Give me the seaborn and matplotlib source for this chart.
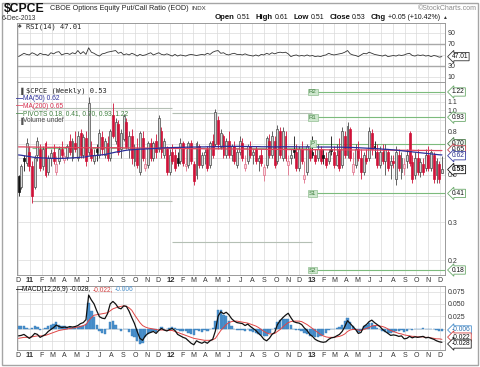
import numpy as np
import pandas as pd
import matplotlib
matplotlib.use("Agg")
import matplotlib.pyplot as plt
import matplotlib.dates as mdates
from matplotlib.ticker import NullLocator
from matplotlib.patches import Rectangle
import seaborn as sns

sns.set_style("white")
plt.rcParams["font.family"] = ["Liberation Sans", "DejaVu Sans"]

# ---------------- data (weekly, Fridays) ----------------
weeks = pd.date_range("2010-12-03", "2013-12-06", freq="W-FRI")

opens = [.49, .44, .60, .57, .64, .55, .44, .62, .66, .55,
         .70, .52, .60, .64, .52, .58, .66, .59, .61, .72,
         .60, .70, .60, .78, .62, .74, .64, .66, .58, .66,
         .62, .75, .62, .70, .60, .95, .72, .86, .66, .74,
         .88, .66, .76, .58, .66, .52, .74, .54, .56, .70,
         .60, .72, .66, .80, .62, .66, .52, .64, .62, .60,
         .58, .70, .55, .56, .70, .56, .50, .68, .56, .62,
         .66, .56, .72, .70, .90, .68, .76, .62, .72, .62,
         .68, .56, .64, .70, .54, .58, .68, .62, .66, .58,
         .62, .50, .56, .72, .62, .72, .58, .80, .60, .76,
         .56, .60, .66, .64, .54, .66, .48, .52, .66, .64,
         .62, .60, .66, .62, .60, .58, .66, .64, .56, .66,
         .56, .76, .62, .82, .52, .56, .66, .60, .52, .60,
         .60, .78, .68, .64, .56, .64, .58, .64, .56, .58,
         .48, .62, .52, .54, .58, .78, .57, .50, .60, .52,
         .56, .54, .62, .54, .62, .50, .56, .51]
highs = [.50, .56, .62, .74, .68, .58, .62, .75, .70, .68,
         .72, .62, .66, .70, .61, .68, .72, .64, .70, .78,
         .74, .80, .80, .82, .78, .80, 1.15, .72, .66, .70,
         .82, .80, .74, .76, .82, 1.08, .92, .90, .82, .96,
         .92, .80, .82, .70, .74, .80, .80, .66, .72, .74,
         .72, .78, .95, .84, .74, .68, .66, .70, .66, .64,
         .74, .72, .66, .72, .73, .58, .72, .70, .64, .66,
         .68, .72, .78, 1.02, .94, .82, .78, .74, .80, .70,
         .72, .66, .76, .74, .62, .70, .72, .66, .68, .62,
         .66, .56, .76, .78, .80, .76, .86, .84, .84, .80,
         .62, .66, .76, .70, .68, .72, .58, .70, .70, .76,
         .66, .70, .68, .66, .64, .66, .76, .68, .70, .74,
         .84, .80, .88, .84, .64, .70, .72, .66, .64, .66,
         .84, .82, .72, .70, .68, .70, .70, .66, .62, .62,
         .68, .66, .64, .60, .66, .80, .62, .64, .66, .60,
         .60, .66, .68, .66, .64, .60, .58, .61]
lows = [.40, .43, .52, .55, .52, .37, .43, .58, .52, .53,
        .49, .50, .55, .56, .50, .56, .60, .57, .59, .62,
        .58, .64, .58, .60, .60, .55, .62, .58, .56, .58,
        .60, .62, .60, .58, .58, .74, .70, .62, .60, .72,
        .66, .60, .56, .55, .54, .50, .58, .52, .54, .58,
        .58, .60, .64, .60, .60, .50, .50, .56, .52, .55,
        .56, .55, .52, .54, .56, .45, .48, .54, .54, .56,
        .52, .54, .60, .68, .66, .66, .60, .60, .60, .58,
        .56, .54, .62, .58, .52, .56, .60, .56, .56, .52,
        .55, .47, .54, .60, .60, .54, .56, .60, .58, .58,
        .50, .56, .60, .52, .52, .56, .46, .50, .58, .60,
        .56, .58, .56, .56, .54, .56, .62, .54, .55, .52,
        .54, .60, .60, .58, .50, .54, .58, .48, .50, .56,
        .58, .62, .60, .54, .54, .56, .50, .52, .48, .54,
        .45, .52, .48, .50, .54, .55, .46, .48, .50, .49,
        .50, .52, .52, .52, .46, .46, .46, .51]
closes = [.42, .55, .58, .70, .55, .40, .60, .72, .54, .66,
          .50, .60, .63, .58, .56, .66, .62, .61, .68, .64,
          .72, .66, .76, .62, .75, .58, 1.08, .60, .62, .64,
          .78, .66, .72, .60, .80, .76, .88, .64, .78, .94,
          .68, .76, .60, .66, .56, .78, .60, .56, .70, .60,
          .70, .64, .92, .64, .72, .52, .62, .58, .54, .57,
          .70, .57, .56, .70, .58, .47, .70, .56, .62, .64,
          .54, .70, .62, .98, .70, .78, .62, .72, .62, .68,
          .58, .64, .72, .60, .56, .68, .62, .64, .58, .60,
          .57, .54, .74, .62, .76, .56, .82, .62, .80, .60,
          .58, .62, .64, .54, .66, .58, .50, .68, .60, .62,
          .58, .66, .58, .60, .56, .64, .65, .56, .62, .54,
          .80, .62, .84, .60, .56, .66, .60, .52, .62, .58,
          .80, .66, .67, .56, .64, .58, .66, .54, .58, .57,
          .64, .54, .60, .56, .62, .57, .48, .60, .52, .57,
          .52, .62, .54, .64, .48, .58, .48, .53]
ma50 = [.620, .618, .615, .612, .610, .606, .604, .603, .601, .600,
        .600, .599, .598, .598, .597, .597, .598, .598, .599, .600,
        .601, .602, .603, .605, .606, .607, .612, .614, .615, .617,
        .619, .621, .623, .627, .631, .635, .639, .642, .645, .649,
        .652, .654, .655, .657, .658, .660, .660, .661, .662, .663,
        .664, .665, .667, .668, .669, .670, .670, .671, .672, .672,
        .673, .673, .674, .674, .675, .675, .675, .676, .676, .676,
        .677, .677, .677, .678, .678, .679, .679, .680, .680, .680,
        .680, .680, .680, .679, .679, .679, .678, .678, .678, .678,
        .677, .677, .677, .677, .676, .676, .676, .676, .677, .677,
        .677, .677, .677, .677, .676, .676, .676, .676, .676, .676,
        .676, .675, .675, .675, .675, .675, .675, .674, .674, .674,
        .674, .673, .673, .672, .672, .671, .670, .669, .668, .667,
        .666, .665, .664, .663, .662, .660, .659, .658, .656, .655,
        .653, .651, .649, .647, .645, .643, .641, .639, .637, .635,
        .633, .631, .629, .627, .625, .623, .621, .620]
ma200 = [.676, .676, .676, .675, .675, .675, .675, .674, .674, .674,
         .674, .673, .673, .673, .673, .672, .672, .672, .672, .671,
         .671, .671, .671, .670, .670, .670, .670, .670, .670, .670,
         .670, .670, .670, .670, .670, .670, .670, .670, .670, .669,
         .669, .669, .669, .669, .668, .668, .668, .668, .667, .667,
         .667, .667, .666, .666, .666, .666, .665, .665, .665, .665,
         .665, .664, .664, .664, .664, .663, .663, .663, .663, .662,
         .662, .662, .662, .662, .662, .662, .661, .661, .661, .661,
         .661, .661, .660, .660, .660, .660, .660, .659, .659, .659,
         .659, .659, .658, .658, .658, .658, .658, .658, .658, .657,
         .657, .657, .657, .657, .657, .657, .656, .656, .656, .656,
         .656, .656, .656, .656, .655, .655, .655, .655, .655, .655,
         .655, .655, .655, .654, .654, .654, .654, .654, .654, .654,
         .654, .654, .653, .653, .653, .653, .653, .653, .653, .652,
         .652, .652, .652, .652, .652, .652, .652, .651, .651, .651,
         .651, .651, .651, .651, .650, .650, .650, .650]
rsi = [47, 50, 53, 51, 50, 54, 52, 49, 53, 51,
       51, 49, 54, 52, 55, 56, 50, 52, 53, 51,
       54, 52, 58, 52, 56, 51, 63, 55, 53, 50,
       48, 52, 53, 55, 56, 57, 58, 53, 55, 50,
       52, 50, 53, 51, 48, 51, 49, 50, 52, 54,
       50, 52, 54, 51, 50, 52, 50, 48, 51, 48,
       50, 49, 48, 50, 51, 50, 49, 50, 51, 50,
       53, 51, 55, 57, 58, 53, 54, 51, 50, 52,
       53, 51, 51, 50, 52, 50, 49, 48, 50, 48,
       51, 50, 53, 51, 54, 52, 54, 55, 54, 55,
       52, 47, 49, 50, 48, 49, 48, 50, 48, 49,
       47, 48, 47, 49, 50, 53, 51, 50, 51, 52,
       53, 55, 58, 52, 50, 49, 47, 50, 53, 52,
       55, 53, 51, 50, 49, 48, 50, 47, 48, 49,
       48, 50, 49, 50, 52, 53, 49, 48, 50, 49,
       50, 48, 49, 47, 49, 48, 46, 47.01]
macd = [-.015, -.014, -.012, -.016, -.020, -.016, -.010, -.012, -.018, -.015,
        -.012, -.006, -.002, .002, .007, .004, .002, .003, .002, .004,
        .003, .004, .006, .010, .012, .018, .068, .058, .050, .036,
        .024, .021, .020, .030, .050, .055, .050, .042, .040, .046,
        .045, .035, .022, .010, -.006, -.020, -.024, -.015, -.010, -.008,
        -.006, -.010, -.004, .000, -.003, -.005, -.002, .000, -.004, -.012,
        -.015, -.018, -.020, -.025, -.030, -.033, -.025, -.028, -.030, -.027,
        -.030, -.025, -.022, -.005, .025, .034, .030, .033, .028, .020,
        .015, .012, .011, .010, .006, .009, .004, .000, -.004, -.010,
        -.015, -.022, -.025, -.020, -.012, -.008, .008, .016, .022, .027,
        .031, .022, .014, .012, .011, .008, .001, -.004, -.012, -.016,
        -.022, -.025, -.027, -.028, -.027, -.022, -.019, -.018, -.015, -.012,
        -.006, .004, .016, .010, .004, -.002, -.010, -.008, .004, .008,
        .014, .017, .012, .008, .004, -.002, -.006, -.010, -.014, -.013,
        -.014, -.016, -.015, -.021, -.020, -.016, -.019, -.017, -.018, -.017,
        -.016, -.019, -.018, -.020, -.022, -.025, -.027, -.028]
signal = [-.020, -.019, -.018, -.018, -.018, -.017, -.016, -.015, -.015, -.015,
          -.014, -.012, -.010, -.008, -.006, -.004, -.003, -.002, -.001, .000,
          .001, .002, .003, .004, .006, .008, .016, .022, .027, .028,
          .029, .030, .031, .032, .036, .040, .042, .044, .045, .046,
          .045, .042, .037, .028, .020, .012, .006, .003, .001, .000,
          -.001, -.002, -.003, -.003, -.003, -.004, -.004, -.004, -.006, -.008,
          -.010, -.012, -.014, -.016, -.018, -.020, -.021, -.022, -.023, -.024,
          -.024, -.024, -.023, -.020, -.012, -.004, .002, .008, .012, .014,
          .015, .015, .014, .013, .012, .011, .009, .007, .005, .002,
          -.002, -.006, -.009, -.011, -.011, -.010, -.006, -.002, .003, .008,
          .012, .014, .015, .015, .015, .014, .011, .008, .004, .000,
          -.004, -.008, -.012, -.015, -.017, -.018, -.018, -.018, -.017, -.016,
          -.014, -.011, -.006, -.003, -.002, -.002, -.003, -.004, -.002, .000,
          .002, .005, .006, .006, .005, .004, .002, -.001, -.004, -.006,
          -.008, -.010, -.011, -.013, -.014, -.015, -.016, -.016, -.017, -.017,
          -.017, -.018, -.018, -.019, -.020, -.021, -.021, -.022]

pivot_levels_2013 = [0.18, 0.41, 0.70, 0.93, 1.22]
pivot_names = ["S2", "S1", "P", "R1", "R2"]
pivots_2011 = [0.378, 0.665, 1.03]
pivots_2012 = [0.243, 0.67, 0.97]

for arr in (opens, highs, lows, closes, ma50, ma200, rsi, macd, signal):
    assert len(arr) == len(weeks), len(arr)

# ---------------- figure ----------------
W, H = 480, 367
fig = plt.figure(figsize=(W / 100, H / 100), dpi=100)
fig.patch.set_facecolor("white")
renderer = fig.canvas.get_renderer()


def pax(l, t, r, b):
    return fig.add_axes([l / W, 1 - b / H, (r - l) / W, (b - t) / H])


def ft(x, y, s, **kw):
    kw.setdefault("va", "center")
    kw.setdefault("fontsize", 5)
    return fig.text(x / W, 1 - y / H, s, **kw)


def seq(x, y, parts):
    """Lay out text pieces one after another from pixel x."""
    for s, gap, kw in parts:
        t = ft(x, y, s, **kw)
        bb = t.get_window_extent(renderer)
        x = bb.x1 + gap
    return x


ax_rsi = pax(17, 23, 445, 82)
ax = pax(17, 82, 445, 275)
ax_m = pax(17, 286, 445, 350)

xlim = (mdates.date2num(pd.Timestamp("2010-11-29")), mdates.date2num(pd.Timestamp("2013-12-14")))
months = pd.date_range("2010-12-01", "2013-12-01", freq="MS")
mlabels = [("%02d" % (m.year % 100)) if m.month == 1 else m.strftime("%b")[0] for m in months]

GRID = "#dadada"
for a in (ax_rsi, ax, ax_m):
    a.set_xlim(*xlim)
    for s in a.spines.values():
        s.set_color("#9a9a9a")
        s.set_linewidth(0.7)
    for m in months:
        a.axvline(m, color=GRID, lw=0.5, zorder=0)

# ---------------- RSI ----------------
ax_rsi.set_ylim(0.9, 108)
for v in (10, 50, 90):
    ax_rsi.axhline(v, color=GRID, lw=0.5, zorder=0)
for v in (30, 70):
    ax_rsi.axhline(v, color="#a8a8a8", lw=1.0, zorder=0)
sns.lineplot(x=weeks, y=rsi, ax=ax_rsi, color="#333333", lw=0.6, legend=False)

# ---------------- main price panel ----------------
ax.set_yscale("log")
ax.set_ylim(0.1706, 1.358)
ax.yaxis.set_minor_locator(NullLocator())
gl = [0.2, 0.3, 0.4, 0.5, 0.6, 0.7, 0.8, 0.9, 1.0, 1.1, 1.2]
for v in gl:
    ax.axhline(v, color=GRID, lw=0.5, zorder=0)

# pivot lines
y11 = (pd.Timestamp("2011-01-07"), pd.Timestamp("2012-01-06"))
y12 = (pd.Timestamp("2012-01-06"), pd.Timestamp("2013-01-04"))
y13 = (pd.Timestamp("2013-01-04"), pd.Timestamp("2013-12-14"))
for (a0, a1), lv in ((y11, pivots_2011), (y12, pivots_2012)):
    ax.hlines([lv[0], lv[2]], a0, a1, color="#b4bfb4", lw=0.8, zorder=1)
    ax.hlines([lv[1]], a0, a1, color="#8cc48c", lw=0.8, zorder=1)
ax.hlines(pivot_levels_2013, y13[0], y13[1], color="#7dbb7d", lw=0.8, zorder=1)
for v, n in zip(pivot_levels_2013, pivot_names):
    ax.text(mdates.date2num(y13[0]) + 1, v, n, fontsize=4.3, color="#3d7d3d", ha="center", va="center",
            bbox=dict(boxstyle="square,pad=0.15", fc="#cde6cd", ec="#93bf93", lw=0.5), zorder=6)

# MAs
sns.lineplot(x=weeks, y=ma200, ax=ax, color="#e0455f", lw=0.9, legend=False, zorder=4)
sns.lineplot(x=weeks, y=ma50, ax=ax, color="#2b2f9a", lw=0.9, legend=False, zorder=4)

# candles
o = np.array(opens); h = np.array(highs); lo = np.array(lows); c = np.array(closes)
prev = np.r_[c[0], c[:-1]]
up = c >= prev
hollow = c >= o
BLK, RED = "#3a3a3a", "#cf1238"
edge = np.where(up, np.where(hollow, "#4a4a4a", "#111111"), np.where(hollow, "#e0708a", RED))
face = np.where(hollow, np.where(up, "#d9d9d9", "#f8d6de"), edge)
xd = mdates.date2num(weeks)
ax.vlines(xd, lo, h, colors=edge, lw=0.6, zorder=3)
ax.bar(xd, np.abs(c - o) + 0.004, bottom=np.minimum(o, c) - 0.002, width=5.0,
       color=face, edgecolor=edge, linewidth=0.5, zorder=3.5)

# ---------------- MACD ----------------
ax_m.set_ylim(-0.0437, 0.0864)
for v in (-0.025, 0.0, 0.025, 0.05, 0.075):
    ax_m.axhline(v, color=GRID, lw=0.5, zorder=0)
hist = np.array(macd) - np.array(signal)
ax_m.bar(xd, hist, width=6.2, color="#4a90cc", edgecolor="#3a80bc", linewidth=0.3, zorder=2)
sns.lineplot(x=weeks, y=signal, ax=ax_m, color="#e04545", lw=0.7, legend=False, zorder=3)
sns.lineplot(x=weeks, y=macd, ax=ax_m, color="#111111", lw=0.9, legend=False, zorder=4)

# ---------------- axes ticks (after seaborn) ----------------
ax_rsi.set_yticks([10, 30, 70, 90])
ax_rsi.set_yticklabels(["10", "30", "70", "90"])
ax.set_yticks(gl)
ax.set_yticklabels(["0.2", "0.3", "", "0.5", "", "", "0.8", "", "1.0", "1.1", ""])
ax_m.set_yticks([0.025, 0.05, 0.075])
ax_m.set_yticklabels(["0.025", "0.050", "0.075"])
for a in (ax_rsi, ax, ax_m):
    a.set_xlim(*xlim)
    a.set_xticks(months)
    a.set_xlabel("")
    a.set_ylabel("")
    a.yaxis.tick_right()
    a.tick_params(axis="both", length=0, labelsize=5, colors="#333333", pad=2)
ax_rsi.set_xticklabels([])
for a in (ax, ax_m):
    a.set_xticklabels(mlabels)
    for t, m in zip(a.get_xticklabels(), months):
        if m.month == 1:
            t.set_fontweight("bold")
            t.set_fontsize(5.5)
    a.tick_params(axis="x", pad=1.5)


# ---------------- right-side value tags ----------------
def tag(a, y, s, ec, tc="#111111", fc="white", bold=False):
    a.annotate(s, xy=(1.0, y), xycoords=("axes fraction", "data"), xytext=(5, 0),
               textcoords="offset points", ha="left", va="center", fontsize=4.8,
               color=tc, fontweight="bold" if bold else "normal", annotation_clip=False,
               bbox=dict(boxstyle="larrow,pad=0.1", fc=fc, ec=ec, lw=0.6), zorder=10)


tag(ax_rsi, 47.01, "47.01", "#333333")
tag(ax, 1.22, "1.22", "#6aa86a")
tag(ax, 0.93, "0.93", "#6aa86a")
tag(ax, 0.70, "0.70", "#4a7a4a", fc="#eef6ee")
tag(ax, 0.655, "0.65", "#c0404a")
tag(ax, 0.615, "0.62", "#3a40a0", tc="#2a2f8a")
tag(ax, 0.53, "0.53", "#111111", bold=True)
tag(ax, 0.41, "0.41", "#6aa86a")
tag(ax, 0.18, "0.18", "#6aa86a")
tag(ax_m, -0.003, "-0.006", "#4a90cc", tc="#2a70b0")
tag(ax_m, -0.0175, "-0.022", "#d04040")
tag(ax_m, -0.0315, "-0.028", "#222222")

# ---------------- header & legends ----------------
ft(4, 9, "$CPCE", fontsize=8.8, fontweight="bold", color="#111111")
seq(50, 9, [("CBOE Options Equity Put/Call Ratio (EOD)", 3, dict(fontsize=5.2, color="#222222")),
            ("INDX", 0, dict(fontsize=4.4, color="#333333"))])
ft(2, 18, "6-Dec-2013", fontsize=4.8, color="#333333")
ft(477, 9, "\u00a9StockCharts.com", fontsize=5, color="#8a8a8a", ha="right")
B = dict(fontsize=5.6, fontweight="bold", color="#111111")
N = dict(fontsize=5, color="#111111")
seq(215, 17.5, [("Open", 2, B), ("0.51", 5, N), ("High", 2, B), ("0.61", 5, N),
                ("Low", 2, B), ("0.51", 5, N), ("Close", 2, B), ("0.53", 5, N),
                ("Chg", 2, B), ("+0.05 (+10.42%)", 2, N),
                ("\u25b2", 0, dict(fontsize=3.5, color="#333333"))])

mono = ["DejaVu Sans Mono"]
ft(18, 26.5, "\u2663", fontsize=4, color="#333333")
ft(26, 26.5, "RSI(14) 47.01", fontsize=5, family=mono, color="#222222")

ft(19, 91, "\u2590", fontsize=4.5, color="#444444")
ft(26, 91, "$CPCE (Weekly) 0.53", fontsize=5, family=mono, color="#222222")
ft(16, 98.5, "\u2014", fontsize=5, color="#2b2f9a", fontweight="bold")
ft(23, 98.5, "MA(50) 0.62", fontsize=4.8, color="#2b2f9a")
ft(16, 106, "\u2014", fontsize=5, color="#e0455f", fontweight="bold")
ft(23, 106, "MA(200) 0.65", fontsize=4.8, color="#d63050")
ft(16, 113.5, "\u2014", fontsize=5, color="#4a8a4a", fontweight="bold")
ft(23, 113.5, "PIVOTS 0.18, 0.41, 0.70, 0.93, 1.22", fontsize=4.8, color="#3f7f3f")
ft(19, 121, "\u2590", fontsize=4.5, color="#555555")
ft(23, 121, "Volume undef", fontsize=4.8, color="#444444")

ft(16, 289.5, "\u2014", fontsize=5, color="#111111", fontweight="bold")
seq(22, 289.5, [("MACD(12,26,9) -0.028,", 2, dict(fontsize=4.8, color="#111111")),
                ("-0.022,", 2, dict(fontsize=4.8, color="#d04040")),
                ("-0.006", 0, dict(fontsize=4.8, color="#4a90cc"))])

# outer frame
fig.add_artist(Rectangle((2 / W, 2 / H), 476 / W, 362 / H, transform=fig.transFigure,
                         fill=False, ec="#a5a5a5", lw=1.0))

fig.savefig("out.png", dpi=100, facecolor="white")
